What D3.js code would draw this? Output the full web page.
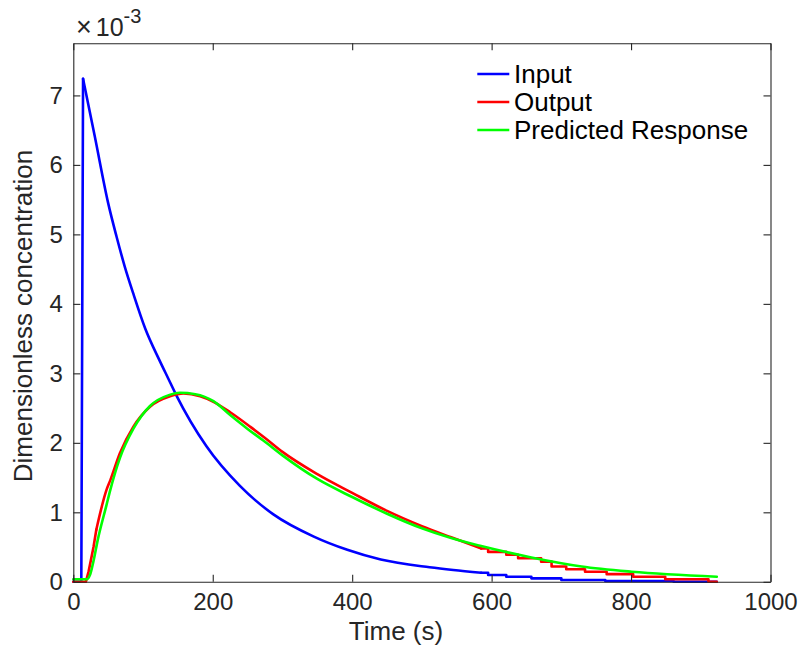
<!DOCTYPE html>
<html>
<head>
<meta charset="utf-8">
<script src="https://cdn.jsdelivr.net/npm/d3@7"></script>
<style>
  body { margin: 0; background: #fff; }
  svg { font-family: "Liberation Sans", Arial, sans-serif; }
</style>
</head>
<body>
<svg id="chart" width="799" height="650"></svg>
<script>
// values are in units of 1e-3
// each series: rise (straight), smooth part, stepped tail
const inputTime = [0, 11.5, 14, 31, 50, 62, 74, 86, 103, 124, 136, 148, 191, 239, 287, 345, 393, 441, 511, 545, 585,
  595, 595, 621, 621, 657, 657, 700, 700, 763, 763, 861, 861, 923];
const inputVal = [0, 0, 7.24, 6.40, 5.45, 4.97, 4.53, 4.15, 3.65, 3.18, 2.93, 2.68, 1.95, 1.38, 0.97, 0.65, 0.46, 0.32, 0.21, 0.17, 0.13,
  0.13, 0.098, 0.098, 0.073, 0.073, 0.05, 0.05, 0.026, 0.026, 0.012, 0.012, 0, 0];

const outputTime = [0, 18, 22, 29, 33, 47.5, 53, 66.8, 86, 110, 138.7, 158, 182, 201, 225, 254, 275, 300, 350, 400, 450, 500, 542, 585,
  595, 595, 621, 621, 638, 638, 671, 671, 686, 686, 707, 707, 734, 734, 765, 765, 803, 803, 849, 849, 911, 911, 923];
const outputVal = [0, 0, 0.15, 0.5, 0.75, 1.32, 1.46, 1.85, 2.23, 2.52, 2.67, 2.71, 2.67, 2.59, 2.44, 2.23, 2.07, 1.87, 1.55, 1.28, 1.02, 0.80, 0.64, 0.48,
  0.48, 0.43, 0.43, 0.39, 0.39, 0.34, 0.34, 0.29, 0.29, 0.22, 0.22, 0.18, 0.18, 0.145, 0.145, 0.11, 0.11, 0.073, 0.073, 0.036, 0.036, 0, 0];

const predTime = [0, 19, 24, 29, 35, 47.5, 53, 66.8, 86, 110, 138, 153, 175, 201, 225, 250, 273, 300, 350, 400, 450, 500, 542, 585, 657, 729, 801, 923];
const predVal = [0.036, 0.036, 0.1, 0.3, 0.6, 1.1, 1.32, 1.78, 2.2, 2.53, 2.69, 2.72, 2.70, 2.60, 2.40, 2.20, 2.03, 1.82, 1.48, 1.22, 0.98, 0.77, 0.63, 0.515, 0.35, 0.22, 0.145, 0.073];

const xTicks = [0, 200, 400, 600, 800, 1000];
const yTicks = [0, 1, 2, 3, 4, 5, 6, 7];
const seriesNames = ["Input", "Output", "Predicted Response"];
const seriesColors = ["#0000ff", "#ff0000", "#00ff00"];

const plotLeft = 73.3, plotRight = 770.5, plotTop = 43.3, plotBottom = 581.8;
const axisColor = "#262626";

const svg = d3.select("#chart");

const x = d3.scaleLinear().domain([0, 1000]).range([plotLeft, plotRight]);
const y = d3.scaleLinear().domain([0, 7.75]).range([plotBottom, plotTop]);

// smooth = [start time, end time] of the part drawn with a smooth curve
const series = [
  { name: seriesNames[0], color: seriesColors[0], t: inputTime, v: inputVal, smooth: [14, 585] },
  { name: seriesNames[1], color: seriesColors[1], t: outputTime, v: outputVal, smooth: [33, 585] },
  { name: seriesNames[2], color: seriesColors[2], t: predTime, v: predVal, smooth: [0, 923] }
];

series.forEach(s => {
  const pts = s.t.map((t, i) => [t, s.v[i]]);
  const i0 = pts.findIndex(d => d[0] >= s.smooth[0]);
  const i1 = pts.findIndex(d => d[0] >= s.smooth[1]);
  const parts = [
    { data: pts.slice(0, i0 + 1), curve: d3.curveLinear },
    { data: pts.slice(i0, i1 + 1), curve: d3.curveMonotoneX },
    { data: pts.slice(i1), curve: d3.curveLinear }
  ];
  parts.forEach(p => {
    if (p.data.length < 2) return;
    const line = d3.line().x(d => x(d[0])).y(d => y(d[1])).curve(p.curve);
    svg.append("path")
      .datum(p.data)
      .attr("fill", "none")
      .attr("stroke", s.color)
      .attr("stroke-width", 2.6)
      .attr("stroke-linejoin", "round")
      .attr("stroke-linecap", "round")
      .attr("d", line);
  });
});

// axes
function styleAxis(g) {
  g.selectAll("path").attr("stroke", axisColor).attr("stroke-width", 1.1);
  g.selectAll("line").attr("stroke", axisColor).attr("stroke-width", 1.1);
  g.selectAll("text").attr("fill", axisColor).attr("font-size", 24)
    .attr("font-family", "Liberation Sans, Arial, sans-serif");
}

svg.append("g")
  .attr("transform", `translate(0,${plotBottom})`)
  .call(d3.axisBottom(x).tickValues(xTicks).tickFormat(d3.format("d")).tickSizeInner(-7).tickSizeOuter(0).tickPadding(11))
  .call(styleAxis);

svg.append("g")
  .attr("transform", `translate(0,${plotTop})`)
  .call(d3.axisTop(x).tickValues(xTicks).tickSizeInner(-7).tickSizeOuter(0).tickFormat(""))
  .call(styleAxis);

svg.append("g")
  .attr("transform", `translate(${plotLeft},0)`)
  .call(d3.axisLeft(y).tickValues(yTicks).tickFormat(d3.format("d")).tickSizeInner(-7).tickSizeOuter(0).tickPadding(10.5))
  .call(styleAxis);

svg.append("g")
  .attr("transform", `translate(${plotRight},0)`)
  .call(d3.axisRight(y).tickValues(yTicks).tickSizeInner(-7).tickSizeOuter(0).tickFormat(""))
  .call(styleAxis);

// exponent label
const expo = svg.append("text")
  .attr("x", 76)
  .attr("y", 36)
  .attr("fill", axisColor)
  .attr("font-size", 25);
expo.append("tspan").attr("font-size", 27).text("\u00d7");
expo.append("tspan").attr("dx", 4).text("10");
expo.append("tspan").attr("font-size", 20).attr("dy", -13).text("-3");

// axis labels
svg.append("text")
  .attr("x", 396)
  .attr("y", 640)
  .attr("text-anchor", "middle")
  .attr("fill", axisColor)
  .attr("font-size", 26)
  .text("Time (s)");

svg.append("text")
  .attr("transform", "translate(32,316) rotate(-90)")
  .attr("text-anchor", "middle")
  .attr("fill", axisColor)
  .attr("font-size", 26)
  .text("Dimensionless concentration");

// legend
const legend = svg.append("g");
series.forEach((s, i) => {
  const ly = 74 + i * 28;
  legend.append("line")
    .attr("x1", 477.3).attr("x2", 509.3)
    .attr("y1", ly).attr("y2", ly)
    .attr("stroke", s.color)
    .attr("stroke-width", 2.6);
  legend.append("text")
    .attr("x", 514)
    .attr("y", ly)
    .attr("dy", "0.35em")
    .attr("font-size", 26)
    .attr("fill", "#000")
    .text(s.name);
});
</script>
</body>
</html>
